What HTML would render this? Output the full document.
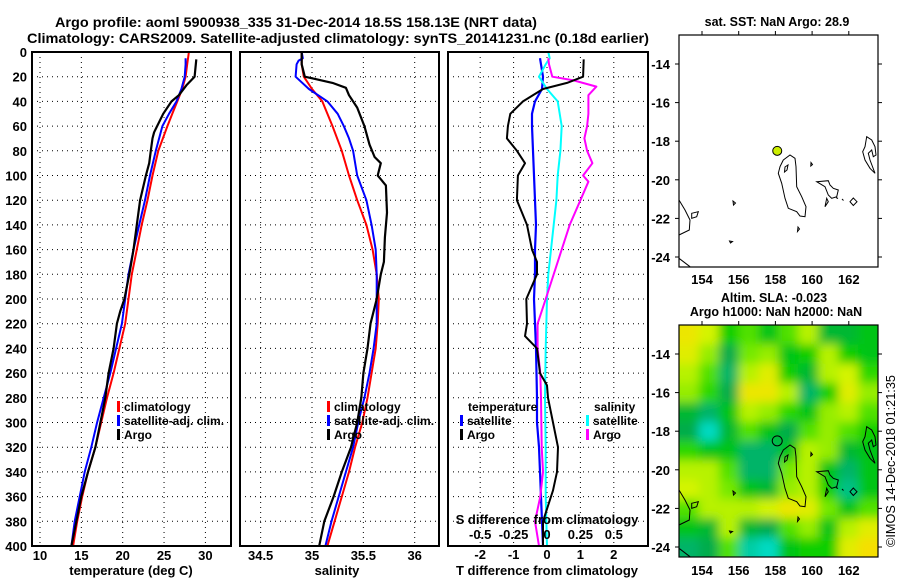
<!DOCTYPE html>
<html><head><meta charset="utf-8"><style>
html,body{margin:0;padding:0;background:#fff;}
svg{display:block;font-family:"Liberation Sans",Arial,sans-serif;font-weight:bold;}
</style></head><body>
<svg id="chart" width="900" height="580" viewBox="0 0 900 580" xmlns="http://www.w3.org/2000/svg">
<defs>
<filter id="blur" x="-10%" y="-10%" width="120%" height="120%"><feGaussianBlur stdDeviation="5"/></filter>
<clipPath id="map2clip"><rect x="679" y="325" width="199" height="232"/></clipPath>
</defs>
<text x="296" y="27" font-size="14" text-anchor="middle" textLength="482" lengthAdjust="spacingAndGlyphs">Argo profile: aoml 5900938_335 31-Dec-2014 18.5S 158.13E (NRT data)</text>
<text x="338" y="43" font-size="14" text-anchor="middle" textLength="622" lengthAdjust="spacingAndGlyphs">Climatology: CARS2009. Satellite-adjusted climatology: synTS_20141231.nc (0.18d earlier)</text>
<g id="layer"></g>
<text font-size="13" font-weight="normal" transform="translate(895,461) rotate(-90)" text-anchor="middle" textLength="172" lengthAdjust="spacingAndGlyphs">©IMOS 14-Dec-2018 01:21:35</text>
</svg>
<script>
// ---------- data ----------
var depthTicks = [0,20,40,60,80,100,120,140,160,180,200,220,240,260,280,300,320,340,360,380,400];
var tTicks = [10,15,20,25,30];
var sTicks = [34.5,35,35.5,36];
var dTTicks = [-2,-1,0,1,2];
var dSTicks = [-0.5,-0.25,0,0.25,0.5];
var dSTickLabels = ["-0.5","-0.25","0","0.25","0.5"];

var climDepth = [0,10,20,30,40,50,60,80,100,120,140,160,180,200,220,240,260,280,300,320,340,360,380,400];
var tClim = [28.0,27.8,27.6,27.2,26.6,26.0,25.4,24.3,23.6,23.0,22.3,21.7,21.1,20.7,20.3,19.6,18.9,18.1,17.4,16.7,15.8,15.1,14.5,14.0];
var tSatDepth = [5,10,20,30,40,50,60,80,100,120,140,160,180,200,220,240,260,280,300,320,340,360,380,400];
var tSat = [27.6,27.6,27.5,27.1,26.5,25.6,24.8,24.0,23.3,22.7,22.0,21.3,20.7,20.3,19.9,19.2,18.5,17.7,16.9,16.2,15.4,14.8,14.2,13.8];
var tArgoDepth = [6,20,27,35,40,50,65,70,80,90,100,120,140,160,180,200,210,220,240,260,280,300,320,340,360,380,400];
var tArgo = [28.9,28.7,27.7,26.8,25.9,24.9,23.8,23.6,23.4,23.2,22.8,22.1,21.7,21.3,20.8,20.2,19.7,19.3,18.9,18.3,17.9,17.3,16.7,15.8,15.0,14.4,13.8];

var sClim = [34.90,34.90,34.92,35.00,35.10,35.15,35.20,35.29,35.36,35.44,35.53,35.59,35.63,35.65,35.64,35.62,35.58,35.54,35.49,35.42,35.36,35.29,35.22,35.15];
var sSatDepth = [0,5,7,10,20,30,40,50,60,70,80,100,120,140,160,180,200,220,240,260,280,300,320,340,360,380,400];
var sSat = [34.90,34.91,34.87,34.85,34.84,34.97,35.15,35.25,35.31,35.36,35.40,35.44,35.53,35.58,35.62,35.63,35.63,35.63,35.60,35.56,35.51,35.45,35.40,35.33,35.26,35.19,35.13];
var sArgoDepth = [0,10,20,22,25,29,35,45,60,75,85,90,100,108,130,150,170,180,200,220,240,260,280,300,320,340,360,380,400];
var sArgo = [34.90,34.90,34.93,35.04,35.20,35.33,35.36,35.44,35.51,35.56,35.61,35.67,35.64,35.72,35.73,35.71,35.70,35.67,35.63,35.57,35.54,35.50,35.48,35.44,35.38,35.29,35.21,35.12,35.07];

var dTArgoDepth = [6,20,25,30,40,50,60,70,80,90,100,120,140,160,170,180,200,220,230,240,260,270,280,300,320,340,355,370,380,400];
var dTArgo = [1.1,1.08,0.6,-0.12,-0.72,-1.1,-1.17,-1.2,-0.9,-0.66,-0.87,-0.9,-0.6,-0.45,-0.3,-0.3,-0.62,-0.6,-0.66,-0.3,-0.21,0,0.03,0.18,0.33,0.3,0.18,0,-0.12,-0.12];
var dTSatDepth = [5,20,30,40,50,60,80,100,120,140,160,180,200,240,280,300,320,340,380,400];
var dTSat = [-0.21,-0.12,-0.15,-0.36,-0.45,-0.45,-0.42,-0.39,-0.36,-0.33,-0.36,-0.36,-0.39,-0.33,-0.3,-0.3,-0.24,-0.21,-0.15,-0.12];
var dSSatDepth = [0,5,10,20,30,40,60,80,100,120,140,160,180,200,240,280,320,360,400];
var dSSat = [0.01,0.02,-0.01,-0.06,0,0.08,0.11,0.1,0.08,0.07,0.05,0.03,0.01,0,-0.01,-0.015,-0.01,-0.01,0];
var dSArgoDepth = [5,10,20,23,28,35,50,60,70,80,90,100,105,120,140,160,180,200,220,240,260,280,320,340,360,380,400];
var dSArgo = [0.01,0.015,0.04,0.2,0.37,0.31,0.31,0.3,0.28,0.3,0.34,0.27,0.31,0.25,0.17,0.11,0.05,-0.01,-0.07,-0.07,-0.05,-0.045,-0.04,-0.03,-0.05,-0.09,-0.06];

var lonTicks = [154,156,158,160,162];
var latTicks = [-14,-16,-18,-20,-22,-24];
var argoLon = 158.1, argoLat = -18.5;
// SLA field (coarse grid, rows north->south, cols west->east), -1 cyan .. +1 orange
var slaGrid = [
 [0.6,0.4,-0.2,0.0,-0.3,0.0,0.3,-0.4,-0.4,-0.3],
 [0.5,0.2,-0.5,0.1,0.2,-0.3,-0.2,0.3,-0.2,-0.3],
 [0.3,0.0,-0.6,0.3,0.5,-0.2,-0.4,0.3,0.4,-0.1],
 [0.2,-0.1,-0.5,0.6,0.6,0.3,-0.6,-0.2,0.5,0.2],
 [-0.4,-0.6,-0.3,0.3,0.2,-0.1,-0.3,0.2,0.3,0.0],
 [-0.5,-0.9,-0.4,0.0,-0.3,-0.5,0.0,0.2,0.0,-0.2],
 [-0.1,-0.3,-0.3,-0.6,-0.6,-0.3,0.3,0.2,-0.4,-0.3],
 [0.3,0.3,0.0,-0.6,-0.6,0.1,0.3,-0.3,-0.6,-0.3],
 [0.4,0.3,0.1,-0.3,-0.4,0.2,0.3,-0.2,-0.7,-0.3],
 [0.0,0.3,0.3,0.3,0.4,0.6,0.5,0.1,-0.3,0.0],
 [-0.3,-0.4,0.3,-0.4,-0.5,0.0,0.2,-0.3,0.3,0.5],
 [-0.6,-0.5,0.0,-0.8,-0.9,-0.3,-0.2,-0.2,0.5,0.7]
];

// ---------- helpers ----------
var NS = "http://www.w3.org/2000/svg";
var layer = document.getElementById('layer');
function mk(tag, attrs, parent){
  var e = document.createElementNS(NS, tag);
  for (var k in attrs) e.setAttribute(k, attrs[k]);
  (parent||layer).appendChild(e);
  return e;
}
var Y0 = 52, Y1 = 546;
function yD(d){ return Y0 + d*(Y1-Y0)/400; }
function xT(t){ return 40 + (t-10)*8.27; }
function xS(s){ return 312 + (s-35)*102.7; }
function xDT(t){ return 547 + t*33.4; }
function xDS(s){ return 547 + s*133.6; }

function frame(x0,x1,name){
  var r = mk('rect',{x:x0,y:Y0,width:x1-x0,height:Y1-Y0,fill:'none',stroke:'#000','stroke-width':2});
  
  
}
function grid(x0,x1,xs,name){
  var g = mk('g',{stroke:'#000','stroke-width':1,'stroke-dasharray':'1,4'});
  
  
  depthTicks.forEach(function(d){ if(d>0&&d<400) mk('line',{x1:x0,x2:x1,y1:yD(d),y2:yD(d)},g); });
  xs.forEach(function(x){ mk('line',{x1:x,x2:x,y1:Y0,y2:Y1},g); });
}
function line(depths, vals, xf, color, w, name){
  var pts = vals.map(function(v,i){ return xf(v).toFixed(1)+','+yD(depths[i]).toFixed(1); }).join(' ');
  var p = mk('polyline',{points:pts,fill:'none',stroke:color,'stroke-width':w,'stroke-linejoin':'round'});
  
  
}
function txt(x,y,s,size,anchor,name,extra){
  var t = mk('text',{x:x,y:y,'font-size':size,'text-anchor':anchor||'start'});
  if(extra) for (var k in extra) t.setAttribute(k, extra[k]);
  t.textContent = s;
  
  
  return t;
}
function legendItem(x,y,color,label,name){
  var m = mk('rect',{x:x,y:y-10,width:3,height:11,fill:color});
  
  
  txt(x+7,y,label,12,'start',name);
}

// ---------- panel 1: temperature ----------
grid(32,231,tTicks.map(xT),'temperature-grid');
line(climDepth,tClim,xT,'#ff0000',2,'temperature-climatology-line');
line(tSatDepth,tSat,xT,'#0000ff',2,'temperature-satellite-line');
line(tArgoDepth,tArgo,xT,'#000',2.2,'temperature-argo-line');
frame(32,231,'temperature-panel-frame');
depthTicks.forEach(function(d){ txt(27,yD(d)+5,String(d),13,'end','depth-tick-label'); });
tTicks.forEach(function(t){ txt(xT(t),560,String(t),13,'middle','temperature-tick-label'); });
txt(131,575,'temperature (deg C)',13,'middle','temperature-axis-title');
legendItem(117,411,'#ff0000','climatology','legend-climatology-temperature');
legendItem(117,425,'#0000ff','satellite-adj. clim.','legend-satellite-temperature');
legendItem(117,439,'#000','Argo','legend-argo-temperature');

// ---------- panel 2: salinity ----------
grid(240,439,sTicks.map(xS),'salinity-grid');
line(climDepth,sClim,xS,'#ff0000',2,'salinity-climatology-line');
line(sSatDepth,sSat,xS,'#0000ff',2,'salinity-satellite-line');
line(sArgoDepth,sArgo,xS,'#000',2.2,'salinity-argo-line');
frame(240,439,'salinity-panel-frame');
sTicks.forEach(function(s){ txt(xS(s),560,String(s),13,'middle','salinity-tick-label'); });
txt(337,575,'salinity',13,'middle','salinity-axis-title');
legendItem(327,411,'#ff0000','climatology','legend-climatology-salinity');
legendItem(327,425,'#0000ff','satellite-adj. clim.','legend-satellite-salinity');
legendItem(327,439,'#000','Argo','legend-argo-salinity');

// ---------- panel 3: differences ----------
grid(448,648,dTTicks.map(xDT),'difference-grid');
line(dTSatDepth,dTSat,xDT,'#0000ff',2.2,'t-diff-satellite-line');
line(dSSatDepth,dSSat,xDS,'#00ffff',2,'s-diff-satellite-line');
line(dSArgoDepth,dSArgo,xDS,'#ff00ff',2,'s-diff-argo-line');
line(dTArgoDepth,dTArgo,xDT,'#000',2,'t-diff-argo-line');
frame(448,648,'difference-panel-frame');
dTTicks.forEach(function(t){ txt(xDT(t),559,String(t),13,'middle','t-diff-tick-label'); });
txt(547,575,'T difference from climatology',13,'middle','t-diff-axis-title');
txt(547,524,'S difference from climatology',13,'middle','s-diff-axis-title');
dSTicks.forEach(function(s,i){ txt(xDS(s),539,dSTickLabels[i],13,'middle','s-diff-tick-label'); });
txt(468,411,'temperature',12,'start','legend-temperature-heading');
legendItem(460,425,'#0000ff','satellite','legend-t-diff-satellite');
legendItem(460,439,'#000','Argo','legend-t-diff-argo');
txt(594,411,'salinity',12,'start','legend-salinity-heading');
legendItem(586,425,'#00ffff','satellite','legend-s-diff-satellite');
legendItem(586,439,'#ff00ff','Argo','legend-s-diff-argo');

// ---------- maps ----------
var MX0 = 679, MX1 = 878;
function lonX(l){ return 702 + (l-154)*18.35; }
function latY(l, off){ return off + 64 + (-14 - l)*19.3; }
var coastPaths = [
 "M783.3,160 L790,155 L795,158.3 L796,166.7 L796.7,186.7 L801.7,196.7 L806,206.7 L805,216.7 L800,216 L796.7,211.7 L788.3,208.3 L785,198.3 L781.7,183.3 L778.3,173.3 L780,166.7 Z",
 "M785,167 L788,165 L787,170 L784.5,172 Z",
 "M866.7,136.7 L871.7,140 L875,146.7 L876,155 L873.3,156.7 L871.7,150 L868.3,153.3 L870,160 L875,173.3 L870,168.3 L865,160 L862.7,151.7 L865,146.7 Z",
 "M816.7,181.7 L828.3,180.7 L830,185 L833.3,188.3 L838.3,190 L836.7,196.7 L831.7,198.3 L828.3,195 L825,186.7 Z",
 "M826.7,198.3 L825,206.7 L828.3,201.7 Z",
 "M850,201.7 L853.3,198 L857,201.7 L853.3,205.5 Z",
 "M679,200 L685,210 L690,220 L689.3,230 L679,235",
 "M691.7,213.3 L698.3,211.7 L696.7,216.7 L691.7,218.3 Z",
 "M679,258.3 L690,266.7",
 "M733,201 L735.5,203 L733.5,205 Z",
 "M729.5,241 L732.5,241.5 L730.5,243 Z",
 "M798,227 L799.5,229 L797.5,231.5 Z",
 "M811,162.5 L812.5,164.5 L810.8,166 Z",
 "M836,197.5 L838,198.5", "M842,199 L843.5,200.5"
];
function slaColor(v){
  var stops = [[-1,[0,220,200]],[-0.6,[0,170,80]],[-0.3,[0,205,0]],[0,[110,232,0]],[0.3,[210,245,0]],[0.6,[245,225,0]],[1,[245,175,40]]];
  for (var i=0;i<stops.length-1;i++){
    if (v<=stops[i+1][0]){
      var a=stops[i], b=stops[i+1], f=Math.max(0,(v-a[0])/(b[0]-a[0]));
      var c=a[1].map(function(x,j){return Math.round(x+(b[1][j]-x)*f);});
      return 'rgb('+c.join(',')+')';
    }
  }
  return 'rgb(245,175,40)';
}
function drawMap(off, name, withField){
  var top = 35+off, bot = 267+off;
  var g = mk('g',{});
  
  
  if (withField){
    var fg = mk('g',{'clip-path':'url(#map2clip)'},g);
    var inner = mk('g',{filter:'url(#blur)'},fg);
    var nr = slaGrid.length, nc = slaGrid[0].length;
    var cw = (MX1-MX0)/nc, ch = (bot-top)/nr;
    slaGrid.forEach(function(row,r){
      row.forEach(function(v,c){
        var x = MX0 + c*cw, y = top + r*ch, w = cw+0.5, h = ch+0.5;
        if (c===0){ x-=20; w+=20; } if (c===nc-1){ w+=20; }
        if (r===0){ y-=20; h+=20; } if (r===nr-1){ h+=20; }
        var cell = mk('rect',{x:x,y:y,width:w,height:h,fill:slaColor(v-0.08)},inner);
        
        
      });
    });
  }
  var cg = mk('g',{transform:'translate(0,'+off+')',fill:'none',stroke:'#000','stroke-width':1},g);
  
  
  coastPaths.forEach(function(d){ mk('path',{d:d},cg); });
  var fr = mk('rect',{x:MX0,y:top,width:MX1-MX0,height:bot-top,fill:'none',stroke:'#000','stroke-width':1.2},g);
  
  
  lonTicks.forEach(function(l){
    mk('line',{x1:lonX(l),x2:lonX(l),y1:top,y2:top-4,stroke:'#000'},g);
    txt(lonX(l),(off?575:284),String(l),13,'middle','longitude-tick-label');
  });
  latTicks.forEach(function(l){
    var y = latY(l,off);
    mk('line',{x1:MX0,x2:MX0-4,y1:y,y2:y,stroke:'#000'},g);
    mk('line',{x1:MX1,x2:MX1+4,y1:y,y2:y,stroke:'#000'},g);
    txt(670,y+5,String(l),13,'end','latitude-tick-label');
  });
  var pt = mk('circle',{cx:lonX(argoLon),cy:latY(argoLat,off),r:withField?5:4.5,fill:withField?'none':'#ccee00',stroke:'#000','stroke-width':1},g);
  
  
}
drawMap(0,'sst-map',false);
txt(777,26,'sat. SST: NaN Argo: 28.9',12.5,'middle','sst-map-title');
drawMap(290,'sla-map',true);
txt(774,302,'Altim. SLA: -0.023',12.5,'middle','sla-map-title');
txt(776,316,'Argo h1000: NaN h2000: NaN',12.5,'middle','sla-map-subtitle');
</script>
</body></html>
